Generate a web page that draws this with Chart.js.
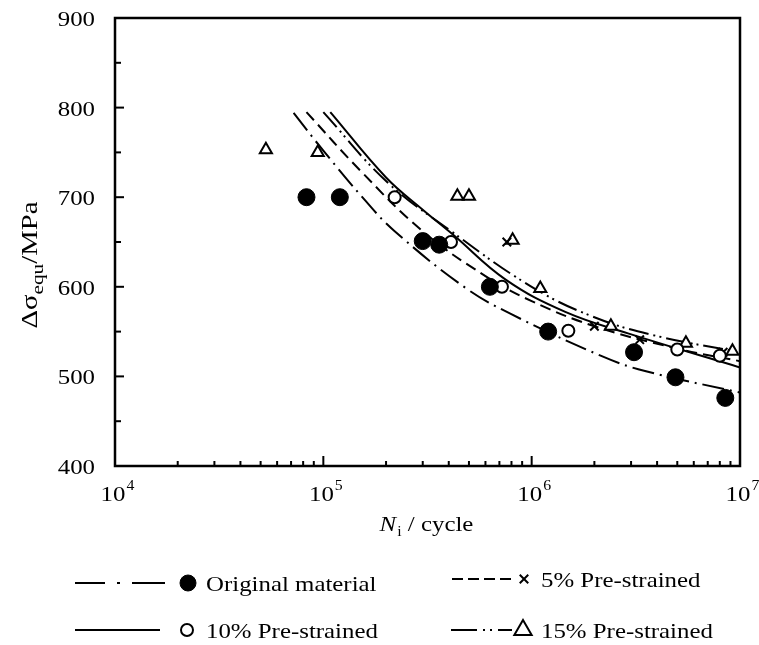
<!DOCTYPE html>
<html>
<head>
<meta charset="utf-8">
<script src="https://cdn.jsdelivr.net/npm/chart.js@4.4.1/dist/chart.umd.min.js"></script>
<style>
  html, body { margin: 0; padding: 0; background: #fff; }
</style>
</head>
<body>
<canvas id="chart" width="759" height="645"></canvas>
<script>
// measured points (N in cycles, stress in MPa)
const origN = [8.3e4, 1.2e5, 3.0e5, 3.6e5, 6.3e5, 1.2e6, 3.1e6, 4.9e6, 8.5e6];
const origS = [700, 700, 651, 647, 600, 550, 527, 499, 476];
const pre5N = [7.6e5, 2.0e6, 3.3e6, 8.3e6];
const pre5S = [650, 556, 541, 527];
const pre10N = [2.2e5, 4.1e5, 7.2e5, 1.5e6, 5.0e6, 8.0e6];
const pre10S = [700, 650, 600, 551, 530, 523];
const pre15N = [5.3e4, 9.4e4, 4.4e5, 5.0e5, 8.1e5, 1.1e6, 2.4e6, 5.5e6, 9.2e6];
const pre15S = [753, 750, 701, 701, 652, 598, 556, 537, 528];

// fitted curves
const origFitN = [7.2e4, 1.0e5, 1.58e5, 2.2e5, 4.8e5, 7.9e5, 2.2e6, 3.5e6, 1.0e7];
const origFitS = [794, 752, 697, 662, 599, 570, 522, 506, 482];
const pre5FitN = [8.3e4, 1.5e5, 3.0e5, 6.0e5, 1.0e6, 2.0e6, 5.0e6, 1.0e7];
const pre5FitS = [795, 730, 662, 612, 584, 556, 531, 517];
const pre10FitN = [1.08e5, 2.0e5, 3.0e5, 4.2e5, 7.5e5, 1.45e6, 2.9e6, 1.0e7];
const pre10FitS = [795, 722, 686, 658, 608, 572, 548, 510];
const pre15FitN = [1.0e5, 2.0e5, 4.0e5, 1.0e6, 2.0e6, 4.0e6, 1.0e7];
const pre15FitS = [795, 718, 664, 600, 566, 545, 527];

// axes
const yTicks = [400, 500, 600, 700, 800, 900];
const xDecades = [4, 5, 6, 7];

const FONT = '"Liberation Serif", "Times New Roman", serif';
const SX = 1.13; // the figure's lettering is a bit wide

function pts(xs, ys) {
  return xs.map((x, i) => ({ x: x, y: ys[i] }));
}

const DASH = {
  orig: [22, 6, 2, 6],
  pre5: [11, 6],
  pre10: [],
  pre15: [20, 5, 2, 4, 2, 5]
};

function fitLine(label, xs, ys, dash) {
  return {
    label: label,
    data: pts(xs, ys),
    showLine: true,
    borderColor: '#000',
    borderWidth: 2,
    borderDash: dash,
    pointRadius: 0,
    tension: 0.4,
    order: 2
  };
}

function marks(label, xs, ys, style, radius, fill, bw) {
  return {
    label: label,
    data: pts(xs, ys),
    showLine: false,
    pointStyle: style,
    pointRadius: radius,
    pointBackgroundColor: fill,
    pointBorderColor: '#000',
    pointBorderWidth: bw,
    order: 0
  };
}

const datasets = [
  marks('Original material', origN, origS, 'circle', 8.5, '#000', 1),
  marks('10% Pre-strained', pre10N, pre10S, 'circle', 6, '#fff', 2),
  marks('5% Pre-strained', pre5N, pre5S, 'crossRot', 6, '#000', 2),
  marks('15% Pre-strained', pre15N, pre15S, 'triangle', 7, '#fff', 2),
  fitLine('orig fit', origFitN, origFitS, DASH.orig),
  fitLine('5% fit', pre5FitN, pre5FitS, DASH.pre5),
  fitLine('10% fit', pre10FitN, pre10FitS, DASH.pre10),
  fitLine('15% fit', pre15FitN, pre15FitS, DASH.pre15)
];

// text stretched horizontally, anchored by left x
function wideText(ctx, str, x, y, font, sx) {
  ctx.save();
  ctx.font = font;
  ctx.translate(x, y);
  ctx.scale(sx, 1);
  ctx.fillText(str, 0, 0);
  ctx.restore();
}
function textW(ctx, str, font, sx) {
  ctx.save();
  ctx.font = font;
  const w = ctx.measureText(str).width * sx;
  ctx.restore();
  return w;
}

// box, inward ticks, labels, titles and legend
const decorations = {
  id: 'decorations',
  afterDraw(chart) {
    const { ctx, chartArea: a, scales } = chart;
    const x = scales.x, y = scales.y;
    ctx.save();
    ctx.strokeStyle = '#000';
    ctx.fillStyle = '#000';
    ctx.setLineDash([]);
    ctx.textAlign = 'left';
    ctx.textBaseline = 'alphabetic';
    ctx.lineWidth = 2.5;
    ctx.strokeRect(a.left, a.top, a.right - a.left, a.bottom - a.top);

    // y ticks and labels
    const tf = '22px ' + FONT;
    ctx.lineWidth = 2;
    yTicks.forEach((v, i) => {
      let p = y.getPixelForValue(v);
      ctx.beginPath(); ctx.moveTo(a.left, p); ctx.lineTo(a.left + 9, p); ctx.stroke();
      const s = String(v);
      wideText(ctx, s, 95 - textW(ctx, s, tf, SX), p + 8, tf, SX);
      if (i < yTicks.length - 1) {
        p = y.getPixelForValue(v + 50);
        ctx.beginPath(); ctx.moveTo(a.left, p); ctx.lineTo(a.left + 6, p); ctx.stroke();
      }
    });

    // x ticks and labels
    xDecades.forEach((d, i) => {
      const base = Math.pow(10, d);
      let p = x.getPixelForValue(base);
      ctx.beginPath(); ctx.moveTo(p, a.bottom); ctx.lineTo(p, a.bottom - 10); ctx.stroke();
      if (i < xDecades.length - 1) {
        for (let k = 2; k <= 9; k++) {
          p = x.getPixelForValue(k * base);
          ctx.beginPath(); ctx.moveTo(p, a.bottom); ctx.lineTo(p, a.bottom - 5); ctx.stroke();
        }
      }
      p = x.getPixelForValue(base);
      const sf = '14px ' + FONT;
      const w1 = textW(ctx, '10', tf, SX);
      const w2 = textW(ctx, String(d), sf, SX);
      const x0 = p - (w1 + w2) / 2 + 2;
      wideText(ctx, '10', x0, a.bottom + 35, tf, SX);
      wideText(ctx, String(d), x0 + w1 + 1, a.bottom + 24, sf, SX);
    });

    // x title: N_i / cycle
    {
      const fN = 'italic 22px ' + FONT, fs = '14px ' + FONT;
      const wN = textW(ctx, 'N', fN, SX);
      const wi = textW(ctx, 'i', fs, SX);
      const wc = textW(ctx, ' / cycle', tf, SX);
      const x0 = 426 - (wN + wi + wc) / 2;
      const yb = 531;
      wideText(ctx, 'N', x0, yb, fN, SX);
      wideText(ctx, 'i', x0 + wN + 1, yb + 5, fs, SX);
      wideText(ctx, ' / cycle', x0 + wN + wi + 1, yb, tf, SX);
    }

    // y title: Δσ_equ/MPa, rotated
    {
      ctx.save();
      ctx.translate(37, 265);
      ctx.rotate(-Math.PI / 2);
      const big = '23px ' + FONT, sub = '17px ' + FONT, st = 1.25;
      const w1 = textW(ctx, '\u0394\u03c3', big, st);
      const w2 = textW(ctx, 'equ', sub, st);
      const w3 = textW(ctx, '/MPa', big, st);
      const x0 = -(w1 + w2 + w3) / 2;
      wideText(ctx, '\u0394\u03c3', x0, 0, big, st);
      wideText(ctx, 'equ', x0 + w1, 6, sub, st);
      wideText(ctx, '/MPa', x0 + w1 + w2, 0, big, st);
      ctx.restore();
    }

    // legend
    const legend = [
      { ds: 0, dash: [30, 12, 3, 12, 40], x1: 75, x2: 165, mx: 188, tx: 206, y: 583, r: 8 },
      { ds: 2, dash: [11, 5], x1: 452, x2: 512, mx: 524, tx: 541, y: 579, r: 6 },
      { ds: 1, dash: [], x1: 75, x2: 160, mx: 187, tx: 206, y: 630, r: 6 },
      { ds: 3, dash: [26, 6, 2, 5, 2, 6, 30], x1: 451, x2: 512, mx: 523, tx: 541, y: 630, r: 10 }
    ];
    legend.forEach(item => {
      const d = chart.data.datasets[item.ds];
      ctx.strokeStyle = '#000';
      ctx.lineWidth = 2;
      ctx.setLineDash(item.dash);
      ctx.beginPath(); ctx.moveTo(item.x1, item.y); ctx.lineTo(item.x2, item.y); ctx.stroke();
      ctx.setLineDash([]);
      ctx.fillStyle = d.pointBackgroundColor;
      ctx.lineWidth = d.pointBorderWidth;
      Chart.helpers.drawPoint(ctx, {
        pointStyle: d.pointStyle,
        radius: item.r,
        rotation: 0,
        borderWidth: d.pointBorderWidth
      }, item.mx, item.y);
      ctx.fillStyle = '#000';
      wideText(ctx, d.label, item.tx, item.y + 8, tf, SX);
    });
    ctx.restore();
  }
};

new Chart(document.getElementById('chart'), {
  type: 'scatter',
  data: { datasets: datasets },
  options: {
    responsive: false,
    animation: false,
    devicePixelRatio: 1,
    layout: { padding: { top: 18, right: 19, left: 0, bottom: 0 } },
    plugins: { legend: { display: false }, tooltip: { enabled: false } },
    scales: {
      x: {
        type: 'logarithmic',
        min: 1e4,
        max: 1e7,
        grid: { display: false, drawTicks: false },
        border: { display: false },
        ticks: { display: false },
        afterFit: s => { s.height = 179; }
      },
      y: {
        min: 400,
        max: 900,
        grid: { display: false, drawTicks: false },
        border: { display: false },
        ticks: { display: false },
        afterFit: s => { s.width = 115; }
      }
    }
  },
  plugins: [decorations]
});
</script>
</body>
</html>
